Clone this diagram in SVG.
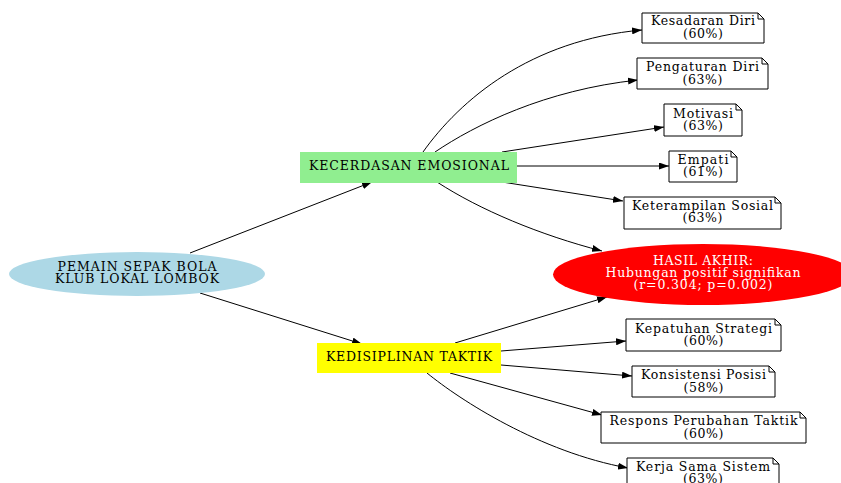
<svg xmlns="http://www.w3.org/2000/svg" width="841" height="483" viewBox="0 0 841 483">
<style>
text{font-family:"DejaVu Serif","Liberation Serif",serif;font-size:12.5px;text-anchor:middle;fill:#000}
.note{fill:#fff;stroke:#000;stroke-width:1}
.fold{fill:none;stroke:#000;stroke-width:1}
.edge{fill:none;stroke:#000;stroke-width:1;marker-end:url(#arr)}
.w{fill:#fff}
</style>
<defs>
<marker id="arr" markerUnits="userSpaceOnUse" markerWidth="10" markerHeight="7" viewBox="0 0 10 7" refX="10" refY="3.5" orient="auto">
<path d="M0,0 L10,3.5 L0,7 z" fill="#000"/>
</marker>
</defs>
<rect width="841" height="483" fill="#fff"/>
<g id="edges">
<path class="edge" d="M190,253 L372,182"/>
<path class="edge" d="M200,293 L362,344"/>
<path class="edge" d="M423,152 C460,100 530,40 642,30"/>
<path class="edge" d="M435,152 C475,125 545,90 638,80"/>
<path class="edge" d="M502,152 L664,127"/>
<path class="edge" d="M517,166 L669,166"/>
<path class="edge" d="M502,182 L623,201"/>
<path class="edge" d="M437,182 C480,210 540,235 602,251"/>
<path class="edge" d="M455,343 L607,297"/>
<path class="edge" d="M501,351 L626,341"/>
<path class="edge" d="M501,365 L632,376"/>
<path class="edge" d="M450,373 L602,415"/>
<path class="edge" d="M427,373 C460,400 540,452 628,468"/>
</g>
<g id="pemain">
<ellipse cx="137" cy="274" rx="128" ry="22" fill="#add8e6"/>
<text x="137" y="271" textLength="159">PEMAIN SEPAK BOLA</text>
<text x="137" y="283" textLength="164">KLUB LOKAL LOMBOK</text>
</g>
<g id="emosional">
<rect x="300" y="152" width="217" height="31" fill="#90ee90"/>
<text x="409" y="170" textLength="200">KECERDASAN EMOSIONAL</text>
</g>
<g id="taktik">
<rect x="317" y="343" width="184" height="30" fill="#ffff00"/>
<text x="409" y="361" textLength="166">KEDISIPLINAN TAKTIK</text>
</g>
<g id="hasil">
<ellipse cx="703" cy="274.5" rx="150" ry="30.5" fill="#ff0000"/>
<text class="w" x="703" y="265" textLength="100">HASIL AKHIR:</text>
<text class="w" x="703" y="277" textLength="195">Hubungan positif signifikan</text>
<text class="w" x="703" y="289" textLength="139">(r=0.304; p=0.002)</text>
</g>
<g id="kesadaran">
<path class="note" d="M642,13 H758 L764,19 V43 H642 Z"/><path class="fold" d="M758,13 V19 H764"/>
<text x="703" y="25" textLength="104">Kesadaran Diri</text>
<text x="703" y="37.5" textLength="40">(60%)</text>
</g>
<g id="pengaturan">
<path class="note" d="M637,58 H762 L768,64 V89 H637 Z"/><path class="fold" d="M762,58 V64 H768"/>
<text x="702.5" y="71" textLength="113">Pengaturan Diri</text>
<text x="702.5" y="83.5" textLength="40">(63%)</text>
</g>
<g id="motivasi">
<path class="note" d="M664,104 H736 L742,110 V136 H664 Z"/><path class="fold" d="M736,104 V110 H742"/>
<text x="703" y="117.5" textLength="60">Motivasi</text>
<text x="703" y="130" textLength="40">(63%)</text>
</g>
<g id="empati">
<path class="note" d="M669,151 H731 L737,157 V182 H669 Z"/><path class="fold" d="M731,151 V157 H737"/>
<text x="703" y="163.5" textLength="51">Empati</text>
<text x="703" y="176" textLength="40">(61%)</text>
</g>
<g id="keterampilan">
<path class="note" d="M624,197 H775 L781,203 V229 H624 Z"/><path class="fold" d="M775,197 V203 H781"/>
<text x="702.5" y="209.5" textLength="141">Keterampilan Sosial</text>
<text x="702.5" y="222" textLength="40">(63%)</text>
</g>
<g id="kepatuhan">
<path class="note" d="M626,319 H775 L781,325 V351 H626 Z"/><path class="fold" d="M775,319 V325 H781"/>
<text x="703.5" y="332.5" textLength="137">Kepatuhan Strategi</text>
<text x="703.5" y="345" textLength="40">(60%)</text>
</g>
<g id="konsistensi">
<path class="note" d="M632,366 H769 L775,372 V397 H632 Z"/><path class="fold" d="M769,366 V372 H775"/>
<text x="703.5" y="379" textLength="125">Konsistensi Posisi</text>
<text x="703.5" y="391.5" textLength="40">(58%)</text>
</g>
<g id="respons">
<path class="note" d="M601,412 H800 L806,418 V443 H601 Z"/><path class="fold" d="M800,412 V418 H806"/>
<text x="703.5" y="425" textLength="188">Respons Perubahan Taktik</text>
<text x="703.5" y="437.5" textLength="40">(60%)</text>
</g>
<g id="kerja">
<path class="note" d="M627,458 H773 L779,464 V490 H627 Z"/><path class="fold" d="M773,458 V464 H779"/>
<text x="703" y="470.5" textLength="134">Kerja Sama Sistem</text>
<text x="703" y="483" textLength="40">(63%)</text>
</g>
</svg>
